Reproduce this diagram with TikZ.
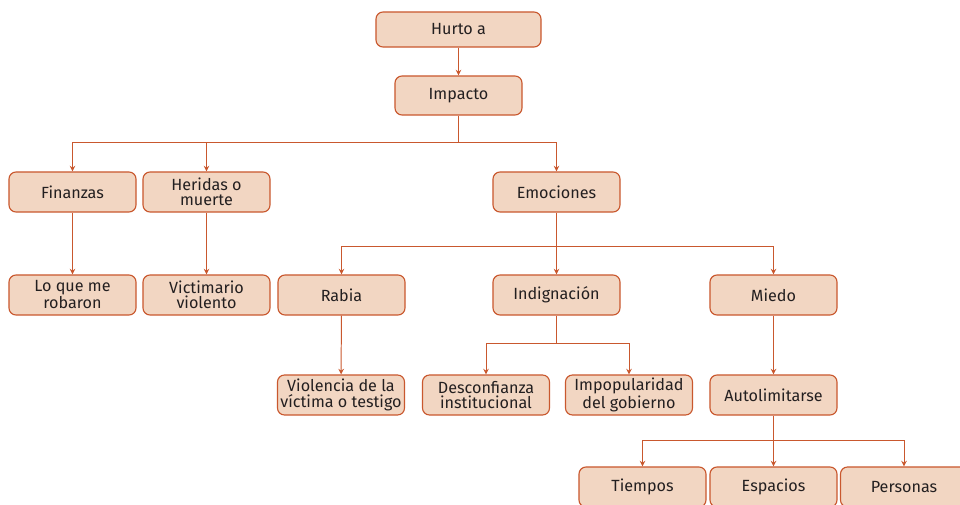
\documentclass[tikz,border=0pt]{standalone}
\usepackage{fontspec}
\setmainfont{Fira Sans}
\usetikzlibrary{arrows.meta}
\definecolor{boxfill}{HTML}{F2D6C2}
\definecolor{boxline}{HTML}{C9582E}
\definecolor{txt}{HTML}{231F20}

\begin{document}
\begin{tikzpicture}[x=0.025cm,y=-0.025cm,
    box/.style={draw=boxline, fill=boxfill, line width=0.8pt, rounded corners=5pt,
        minimum width=3.175cm, minimum height=1cm, inner sep=0pt, align=center,
        text=txt, font=\fontsize{11.5}{10.8}\selectfont},
    arr/.style={draw=boxline, line width=0.7pt, -{Stealth[length=4pt,width=4pt]}},
    ln/.style={draw=boxline, line width=0.7pt}]
    \useasboundingbox (0,0) rectangle (960,505);

    % Top of the tree
    \node[box, minimum width=4.125cm, minimum height=0.875cm] (hurto) at (458.5,29.5) {Hurto a};
    \node[box, minimum height=0.975cm] (impacto) at (458.5,95.5) {Impacto};

    % Second level
    \node[box] (finanzas) at (72.5,192) {Finanzas};
    \node[box] (heridas) at (206.5,192) {Heridas o\\muerte};
    \node[box] (emociones) at (556.5,192) {Emociones};

    % Third level
    \node[box] (robaron) at (72.5,295) {Lo que me\\robaron};
    \node[box] (victimario) at (206.5,295) {Victimario\\violento};
    \node[box] (rabia) at (341.5,295) {Rabia};
    \node[box] (indignacion) at (556.5,295) {Indignación};
    \node[box] (miedo) at (773.5,295) {Miedo};

    % Fourth level
    \node[box] (violencia) at (341,395) {Violencia de la\\víctima o testigo};
    \node[box] (desconfianza) at (486,395) {Desconfianza\\institucional};
    \node[box] (impopularidad) at (629,395) {Impopularidad\\del gobierno};
    \node[box] (autolimitarse) at (773.5,395) {Autolimitarse};

    % Bottom row
    \node[box] (tiempos) at (642.5,487) {Tiempos};
    \node[box] (espacios) at (773.5,487) {Espacios};
    \node[box] (personas) at (904,487) {Personas};

    % Branch points
    \coordinate (bimp) at (458.5,142);
    \coordinate (bemo) at (556.5,246);
    \coordinate (bind) at (556.5,343);
    \coordinate (baut) at (773.5,440);

    % Connectors
    \draw[arr] (hurto) -- (impacto);
    \draw[ln] (impacto) -- (bimp);
    \draw[arr] (bimp) -| (finanzas);
    \draw[arr] (bimp) -| (heridas);
    \draw[arr] (bimp) -| (emociones);
    \draw[arr] (finanzas) -- (robaron);
    \draw[arr] (heridas) -- (victimario);
    \draw[ln] (emociones) -- (bemo);
    \draw[arr] (bemo) -| (rabia);
    \draw[arr] (bemo) -- (indignacion);
    \draw[arr] (bemo) -| (miedo);
    \draw[arr] (rabia) -- (violencia);
    \draw[ln] (indignacion) -- (bind);
    \draw[arr] (bind) -| (desconfianza);
    \draw[arr] (bind) -| (impopularidad);
    \draw[arr] (miedo) -- (autolimitarse);
    \draw[ln] (autolimitarse) -- (baut);
    \draw[arr] (baut) -| (tiempos);
    \draw[arr] (baut) -- (espacios);
    \draw[arr] (baut) -| (personas);
\end{tikzpicture}
\end{document}
